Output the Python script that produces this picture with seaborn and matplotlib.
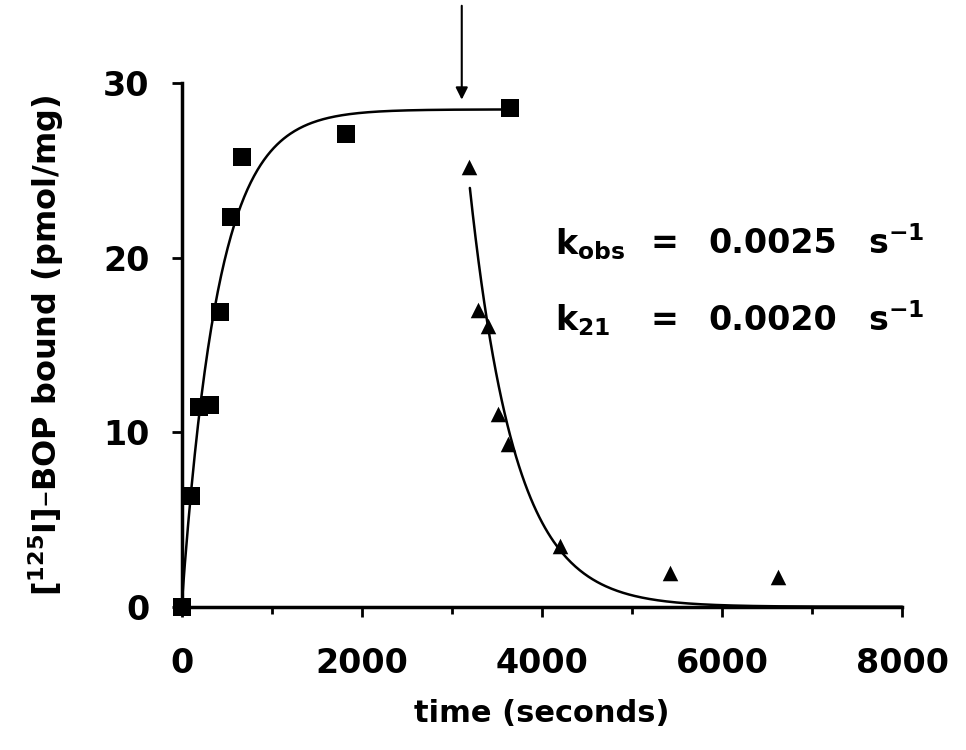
import numpy as np
import pandas as pd
import matplotlib
matplotlib.use("Agg")
import matplotlib.pyplot as plt
import seaborn as sns

# Association (squares)
assoc_time = [0, 100, 192, 311, 426, 544, 673, 1820, 3644]
assoc_bound = [0.0, 6.35, 11.47, 11.57, 16.9, 22.36, 25.8, 27.07, 28.6]
# Dissociation (triangles)
dissoc_time = [3193, 3293, 3404, 3515, 3626, 4200, 5422, 6622]
dissoc_bound = [25.2, 17.0, 16.08, 11.06, 9.3, 3.48, 1.95, 1.7]

# Fit parameters
bmax = 28.5
k_obs = 0.0025
k_21 = 0.0020
dissoc_start = 3200
dissoc_b0 = 24.0
arrow_time = 3110

x_ticks = [0, 2000, 4000, 6000, 8000]
y_ticks = [0, 10, 20, 30]

sns.set_style("ticks")
plt.rcParams["font.family"] = ["DejaVu Sans"]
plt.rcParams["font.weight"] = "bold"
plt.rcParams["mathtext.default"] = "bf"
for key in ["text.color", "axes.labelcolor", "xtick.color", "ytick.color", "axes.edgecolor"]:
    plt.rcParams[key] = "black"

fig = plt.figure(figsize=(9.66, 7.5), dpi=100)
ax = fig.add_axes([0.188, 0.191, 0.746, 0.698])

t1 = np.linspace(0, assoc_time[-1], 300)
fit1 = pd.DataFrame({"t": t1, "b": bmax * (1 - np.exp(-k_obs * t1))})
t2 = np.linspace(dissoc_start, 8000, 300)
fit2 = pd.DataFrame({"t": t2, "b": dissoc_b0 * np.exp(-k_21 * (t2 - dissoc_start))})

sns.lineplot(data=fit1, x="t", y="b", ax=ax, color="black", linewidth=1.8, clip_on=False)
sns.lineplot(data=fit2, x="t", y="b", ax=ax, color="black", linewidth=1.8, clip_on=False)

df1 = pd.DataFrame({"t": assoc_time, "b": assoc_bound})
df2 = pd.DataFrame({"t": dissoc_time, "b": dissoc_bound})
sns.scatterplot(data=df1, x="t", y="b", ax=ax, marker="s", s=180, color="black",
                edgecolor="black", linewidth=0, clip_on=False, zorder=5)
sns.scatterplot(data=df2, x="t", y="b", ax=ax, marker="^", s=125, color="black",
                edgecolor="black", linewidth=0, clip_on=False, zorder=5)

ax.set_xlim(0, 8000)
ax.set_ylim(0, 30)
ax.set_xticks(x_ticks)
ax.set_xticks([1000, 3000, 5000, 7000], minor=True)
ax.set_yticks(y_ticks)
ax.set_xticklabels([str(v) for v in x_ticks])
ax.set_yticklabels([str(v) for v in y_ticks])
ax.tick_params(axis="both", which="major", labelsize=24, width=2, length=7,
               direction="out", color="black")
ax.tick_params(axis="x", which="major", pad=22)
ax.tick_params(axis="y", which="major", pad=16)
ax.tick_params(axis="x", which="minor", width=2, length=5, direction="out")
for lab in ax.get_xticklabels() + ax.get_yticklabels():
    lab.set_fontweight("bold")

sns.despine(ax=ax)
for side in ["left", "bottom"]:
    ax.spines[side].set_linewidth(2.5)
    ax.spines[side].set_color("black")

ax.set_xlabel("time (seconds)", fontsize=22, fontweight="bold", labelpad=14)
ax.set_ylabel("[$^{125}$I]–BOP bound (pmol/mg)", fontsize=23, fontweight="bold", labelpad=27)

rows = [(20.8, "k$_{obs}$", "0.0025"), (16.4, "k$_{21}$", "0.0020")]
for yv, kname, val in rows:
    ax.text(4150, yv, kname, fontsize=24, fontweight="bold", va="center", ha="left")
    ax.text(5200, yv, "=", fontsize=24, fontweight="bold", va="center", ha="left")
    ax.text(5850, yv, val, fontsize=24, fontweight="bold", va="center", ha="left")
    ax.text(7620, yv, "s$^{-1}$", fontsize=24, fontweight="bold", va="center", ha="left")

ax.annotate("", xy=(arrow_time, 28.9), xytext=(arrow_time, 34.6),
            arrowprops=dict(arrowstyle="-|>", color="black", lw=1.5, mutation_scale=18),
            annotation_clip=False)

fig.savefig("out.png", dpi=100, facecolor="white")
